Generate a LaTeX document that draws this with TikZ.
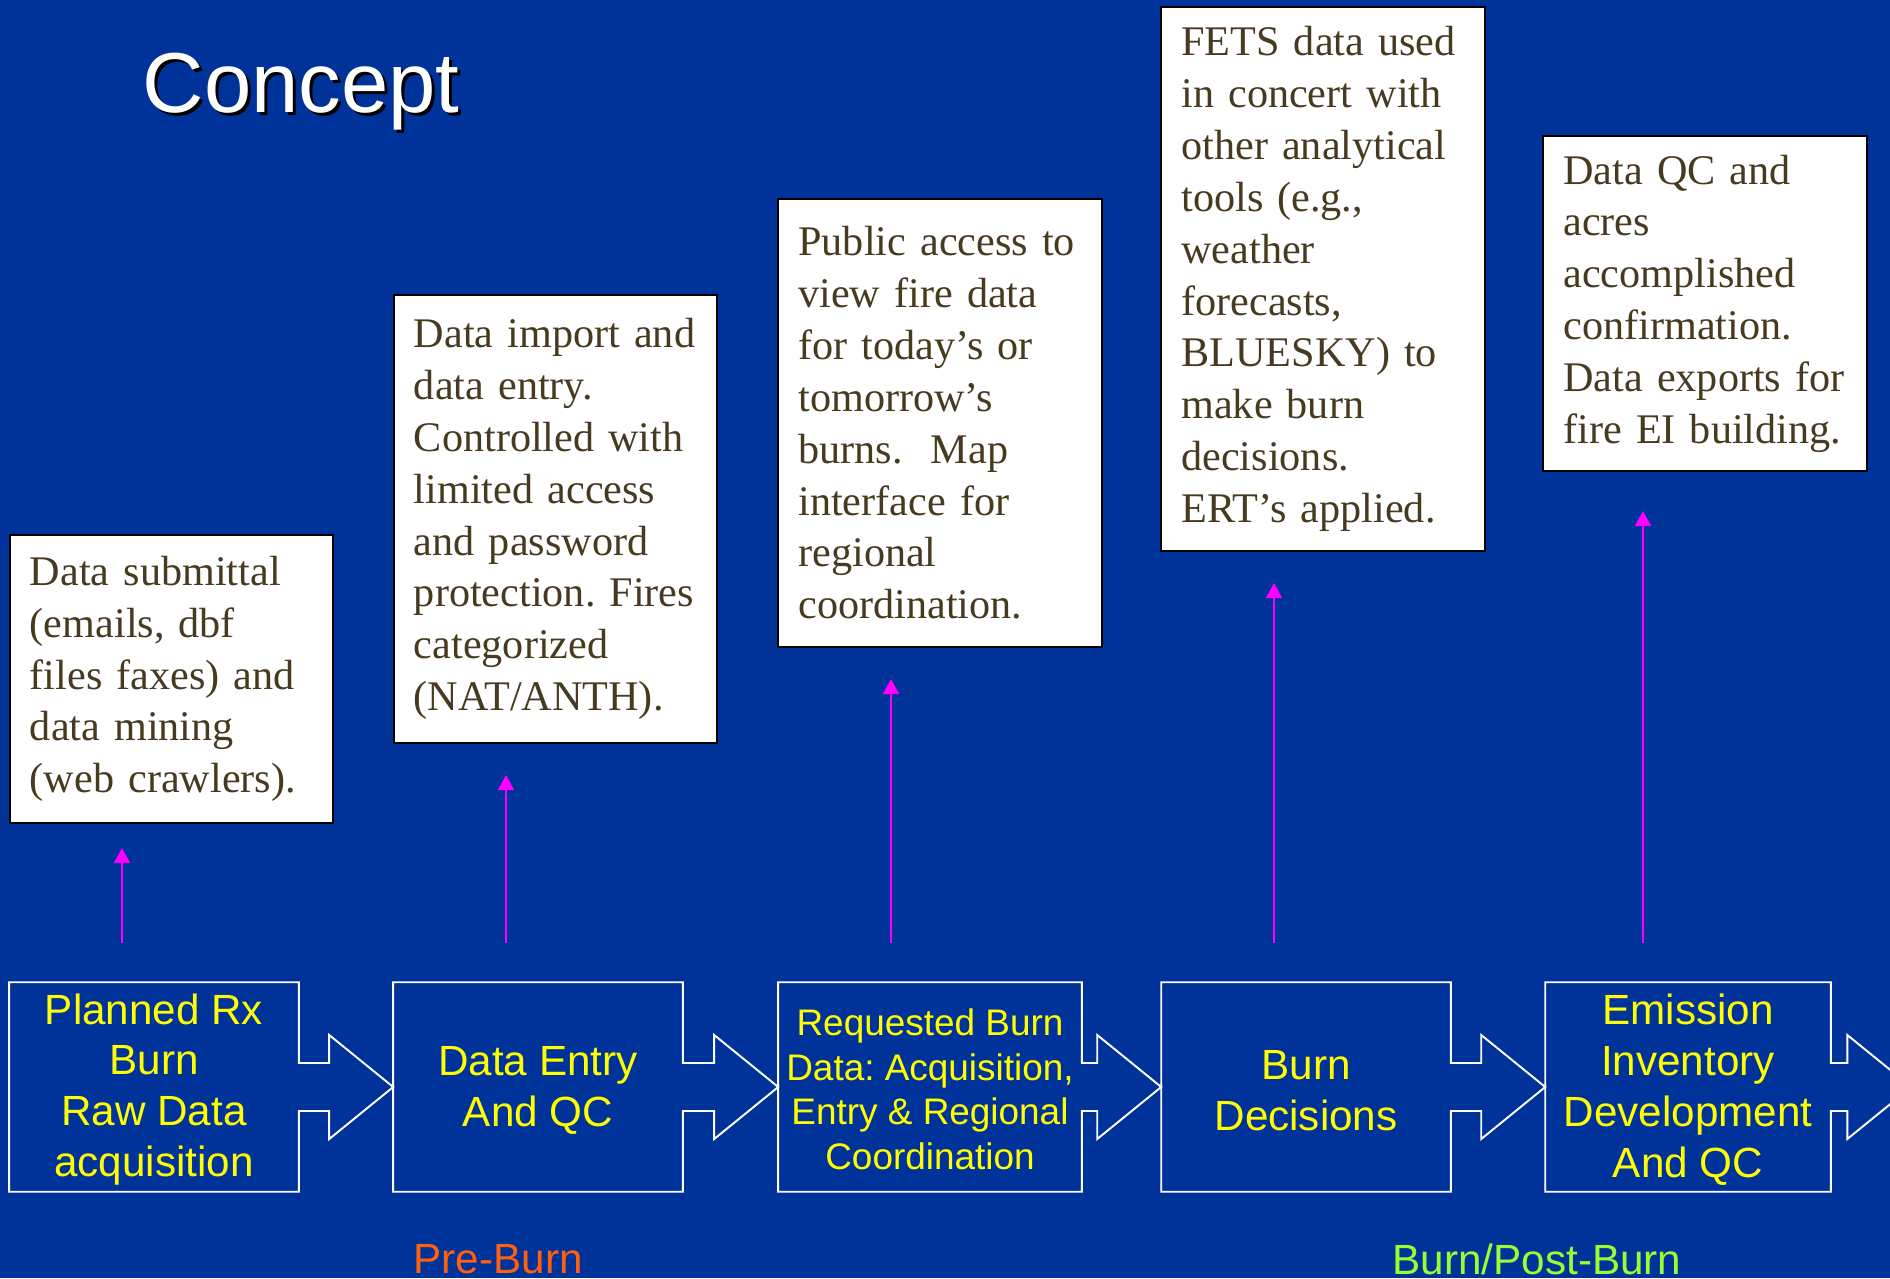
\documentclass[tikz,border=0pt]{standalone}
\usepackage{fontspec}
\setmainfont{Liberation Serif}
\setsansfont{Liberation Sans}
\usepackage{tikz}
\usetikzlibrary{arrows.meta,calc}
\frenchspacing

\definecolor{slideblue}{HTML}{003399}
\definecolor{stepyellow}{HTML}{FFFF00}
\definecolor{notebrown}{HTML}{473A1E}
\definecolor{linkpink}{HTML}{FF00FF}
\definecolor{preorange}{HTML}{FF6010}
\definecolor{postgreen}{HTML}{99FF33}

\begin{document}
\begin{tikzpicture}[x=0.01cm,y=-0.01cm,
    stepbox/.style={minimum width=2.88cm, minimum height=2.08cm, inner sep=0pt, align=center,
      text=stepyellow, font=\sffamily\fontsize{12}{14.5}\selectfont},
    notebox/.style={draw=black, line width=0.6pt, fill=white, text=notebrown, text width=2.83cm,
      inner xsep=0.2cm, inner ysep=0pt, align=left, font=\fontsize{12}{14.74}\selectfont},
    flow/.style={draw=white, line width=0.55pt},
    uparrow/.style={draw=linkpink, line width=0.55pt, -{Triangle[length=0.15cm,width=0.16cm,fill=linkpink]}},
    phase/.style={anchor=base west, inner sep=0pt, font=\sffamily\fontsize{12}{14}\selectfont}]

    \useasboundingbox (0,0) rectangle (1890,1278);
    \fill[slideblue] (0,0) rectangle (1890,1278);

    % title with its shadow
    \node[anchor=base west, inner sep=0pt, text=black, font=\sffamily\fontsize{24.2}{29}\selectfont] at (145,115) {Concept};
    \node[anchor=base west, inner sep=0pt, text=white, font=\sffamily\fontsize{24.2}{29}\selectfont] (title) at (142,112) {Concept};

    % process steps
    \node[stepbox] (step1) at (154,1087) {\strut Planned Rx\\Burn\\Raw Data\\acquisition};
    \node[stepbox] (step2) at (538,1087) {\strut Data Entry\\And QC};
    \node[stepbox, minimum width=3.02cm, font=\sffamily\fontsize{10.5}{12.7}\selectfont] (step3) at (930,1087)
        {\strut Requested Burn\\Data: Acquisition,\\Entry \& Regional\\Coordination};
    \node[stepbox] (step4) at (1306,1087) {\strut Burn\\Decisions};
    \node[stepbox, minimum width=2.84cm] (step5) at (1688,1087) {\strut Emission\\Inventory\\Development\\And QC};
    \node[inner sep=0pt, minimum size=0pt] (tail) at (1912,1087) {};

    \foreach \s/\n in {step1/step2, step2/step3, step3/step4, step4/step5, step5/tail}
      \draw[flow] (\s.north west) -- (\s.north east) -- ($(\s.east)+(0,-24)$)
        -- ($(\n.west)+(-64,-24)$) -- ($(\n.west)+(-64,-52)$) -- (\n.west)
        -- ($(\n.west)+(-64,52)$) -- ($(\n.west)+(-64,24)$) -- ($(\s.east)+(0,24)$)
        -- (\s.south east) -- (\s.south west) -- cycle;

    % notes above the steps
    \node[notebox, minimum height=2.88cm] (note1) at (171.5,679)
        {Data submittal\\(emails, dbf\\files faxes) and\\data mining\\(web crawlers).};
    \node[notebox, minimum height=4.48cm] (note2) at (555.5,519)
        {Data import and\\data entry.\\Controlled with\\limited access\\and password\\protection. Fires\\categorized\\(NAT/ANTH).};
    \node[notebox, minimum height=4.48cm] (note3) at (940,423)
        {Public access to\\view fire data\\for today’s or\\tomorrow’s\\burns.\ \ Map\\interface for\\regional\\coordination.};
    \node[notebox, minimum height=5.44cm] (note4) at (1323,279)
        {FETS data used\\in concert with\\other analytical\\tools (e.g.,\\weather\\forecasts,\\BLUESKY) to\\make burn\\decisions.\\ERT’s applied.};
    \node[notebox, minimum height=3.35cm] (note5) at (1705,303.5)
        {Data QC and\\acres\\accomplished\\confirmation.\\Data exports for\\fire EI building.};

    \foreach \i/\x/\y in {1/122/848, 2/506/775, 3/891/679, 4/1274/583, 5/1643/511} {
      \coordinate (lo\i) at (\x,943);
      \coordinate (hi\i) at (\x,\y);
      \draw[uparrow] (lo\i) -- (hi\i);
    }

    % phases
    \node[phase, text=preorange] (pre) at (413,1273) {Pre-Burn};
    \node[phase, text=postgreen] (post) at (1392,1274) {Burn/Post-Burn};
\end{tikzpicture}
\end{document}
